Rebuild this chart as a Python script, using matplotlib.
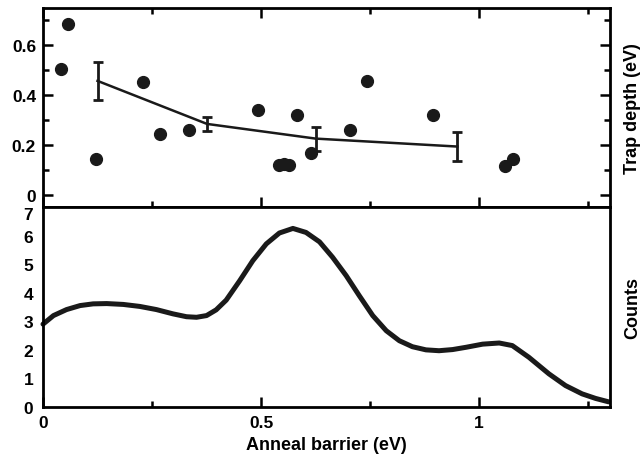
import matplotlib
matplotlib.use("Agg")
import matplotlib.pyplot as plt
from matplotlib.ticker import MultipleLocator

plt.rcParams["font.family"] = ["Liberation Sans", "DejaVu Sans"]
plt.rcParams["font.weight"] = "bold"

# scatter of individual traps (anneal barrier, trap depth)
trap_x = [0.041, 0.058, 0.121, 0.230, 0.268, 0.334, 0.493, 0.541, 0.552, 0.565,
          0.583, 0.615, 0.703, 0.743, 0.895, 1.059, 1.078]
trap_y = [0.504, 0.684, 0.143, 0.453, 0.245, 0.261, 0.340, 0.120, 0.124, 0.117,
          0.319, 0.169, 0.259, 0.457, 0.320, 0.113, 0.143]

# binned means with error bars
mean_x = [0.125, 0.376, 0.625, 0.950]
mean_y = [0.457, 0.284, 0.225, 0.193]
mean_err = [0.077, 0.027, 0.048, 0.057]

# smoothed counts distribution
dist_x = [0.000, 0.024, 0.054, 0.085, 0.115, 0.146, 0.184, 0.222, 0.260, 0.298,
          0.329, 0.352, 0.375, 0.397, 0.420, 0.451, 0.481, 0.512, 0.542, 0.573,
          0.603, 0.634, 0.664, 0.695, 0.725, 0.756, 0.787, 0.817, 0.847, 0.878,
          0.908, 0.939, 0.970, 1.008, 1.046, 1.076, 1.114, 1.160, 1.198, 1.236,
          1.267, 1.297]
dist_y = [2.90, 3.20, 3.41, 3.55, 3.61, 3.62, 3.59, 3.52, 3.41, 3.26,
          3.16, 3.14, 3.20, 3.40, 3.74, 4.42, 5.12, 5.71, 6.09, 6.25,
          6.11, 5.78, 5.24, 4.60, 3.90, 3.20, 2.67, 2.32, 2.11, 2.00,
          1.97, 2.01, 2.09, 2.20, 2.24, 2.15, 1.74, 1.16, 0.75, 0.46,
          0.30, 0.18]

fig = plt.figure(figsize=(6.43, 4.64), dpi=100)
L, R = 43 / 643, 610 / 643
ax_top = fig.add_axes([L, 1 - 208 / 464, R - L, (208 - 9) / 464])
ax_bot = fig.add_axes([L, 1 - 408 / 464, R - L, 200 / 464], sharex=ax_top)

for ax in (ax_top, ax_bot):
    for s in ax.spines.values():
        s.set_linewidth(2.0)

# top panel
ax_top.plot(trap_x, trap_y, "o", color="#1a1a1a", ms=8.5, zorder=3)
ax_top.errorbar(mean_x, mean_y, yerr=mean_err, color="#1a1a1a", lw=1.8,
                elinewidth=2.0, capsize=3.8, capthick=2.0, zorder=2)
ax_top.set_xlim(0, 1.3)
ax_top.set_ylim(-0.05, 0.75)
ax_top.set_yticks([0, 0.2, 0.4, 0.6])
ax_top.set_yticklabels(["0", "0.2", "0.4", "0.6"])
ax_top.yaxis.set_minor_locator(MultipleLocator(0.1))
ax_top.xaxis.set_major_locator(MultipleLocator(0.5))
ax_top.xaxis.set_minor_locator(MultipleLocator(0.25))
ax_top.tick_params(which="both", direction="in", top=True, right=True,
                   bottom=True, left=True, labelbottom=False, width=1.8,
                   labelsize=12.5, pad=5)
ax_top.tick_params(which="major", length=7.5)
ax_top.tick_params(which="minor", length=4)
ax_top.yaxis.set_label_position("right")
ax_top.set_ylabel("Trap depth (eV)", fontsize=13, fontweight="bold", labelpad=10)

# bottom panel
ax_bot.plot(dist_x, dist_y, color="#1a1a1a", lw=3.6, solid_joinstyle="round",
            solid_capstyle="round", clip_on=False)
ax_bot.set_ylim(0, 7)
ax_bot.set_yticks(range(0, 8))
ylabels = ax_bot.set_yticklabels([str(v) for v in range(0, 8)])
ylabels[-1].set_va("top")   # the 7 sits just under the divider
ax_bot.tick_params(axis="y", which="both", length=0, labelsize=12.5, pad=7)
ax_bot.tick_params(axis="x", which="both", direction="in", top=False,
                   bottom=True, width=1.8, labelsize=12.5, pad=6)
ax_bot.tick_params(axis="x", which="major", length=7.5)
ax_bot.tick_params(axis="x", which="minor", length=4)
ax_bot.set_xticks([0, 0.5, 1])
ax_bot.set_xticklabels(["0", "0.5", "1"])
ax_bot.yaxis.set_label_position("right")
ax_bot.set_ylabel("Counts", fontsize=13, fontweight="bold", labelpad=10)
ax_bot.set_xlabel("Anneal barrier (eV)", fontsize=13, fontweight="bold", labelpad=4)

fig.savefig("out.png", dpi=100)
